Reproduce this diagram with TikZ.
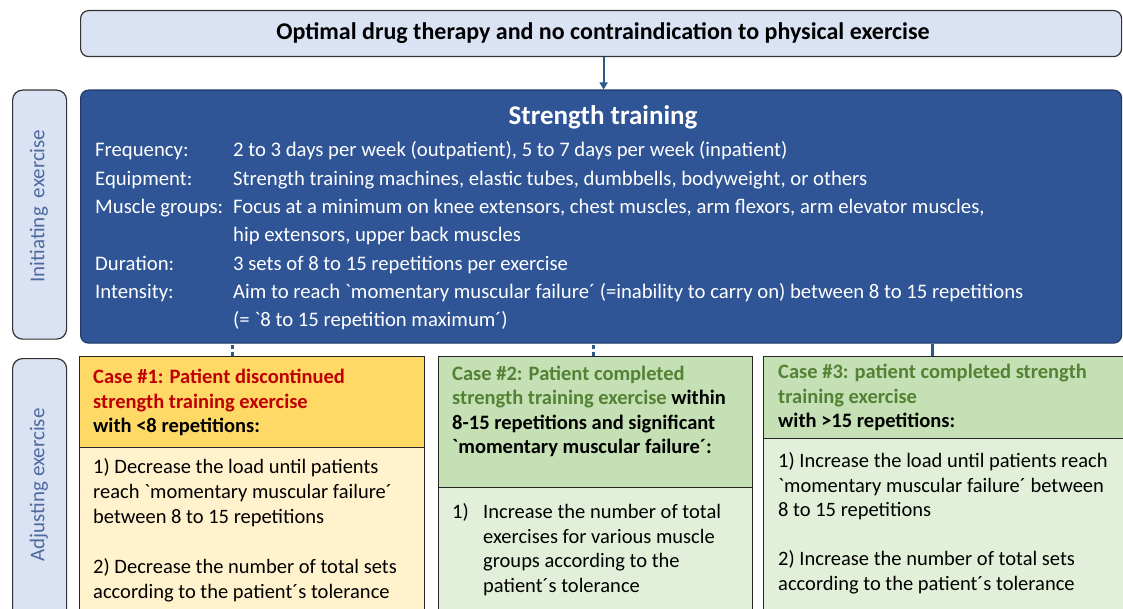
\documentclass[tikz,border=0pt]{standalone}
\usepackage{fontspec}
\setmainfont{Carlito}[Ligatures=TeXOff]
\usetikzlibrary{arrows.meta}
\definecolor{lightblue}{HTML}{DAE3F3}
\definecolor{darkblue}{HTML}{2F5597}
\definecolor{darkborder}{HTML}{1F3864}
\definecolor{arrowblue}{HTML}{2A5A8C}
\definecolor{labelblue}{HTML}{4F6A9E}
\definecolor{yhead}{HTML}{FFD966}
\definecolor{ybody}{HTML}{FFF2CC}
\definecolor{ghead}{HTML}{C5E0B4}
\definecolor{gbody}{HTML}{E2F0D9}
\definecolor{casered}{HTML}{C00000}
\definecolor{casegreen}{HTML}{548235}
\tikzset{
  rbox/.style={draw=black!80, line width=1.2pt, rounded corners=8pt, anchor=north west, inner sep=0pt},
  cbox/.style={draw=black!85, line width=1.3pt, anchor=north west, inner sep=0pt},
  ln/.style={anchor=base west, inner sep=0pt, font=\fontsize{20.5}{25}\selectfont},
  sln/.style={anchor=base west, inner sep=0pt, font=\fontsize{20.7}{25}\selectfont, text=white},
  hb/.style={anchor=base west, inner sep=0pt, font=\fontsize{20.5}{25}\selectfont\bfseries},
  lab/.style={rotate=90, inner sep=0pt, font=\fontsize{21}{24}\selectfont, text=labelblue},
  arr/.style={draw=arrowblue, line width=2.2pt, -{Triangle[length=7pt,width=8pt]}},
  conn/.style={draw=arrowblue, line width=2.6pt},
}
\begin{document}
\begin{tikzpicture}[x=1pt,y=-1pt]
\useasboundingbox (0,0) rectangle (1123,609);
\clip (0,0) rectangle (1123,609);
% top box
\node[rbox, fill=lightblue, minimum width=1041pt, minimum height=46pt] (top) at (80,10) {};
\node[inner sep=0pt, font=\fontsize{24}{28}\selectfont\bfseries] (toptxt) at (603,33) {Optimal drug therapy and no contraindication to physical exercise};
% strength box
\node[rbox, draw=darkborder, fill=darkblue, minimum width=1041pt, minimum height=253pt] (st) at (80,89.5) {};
\node[inner sep=0pt, text=white, font=\fontsize{27}{30}\selectfont\bfseries, anchor=base] (sttitle) at (603,125) {Strength training};
\node[sln] (s1a) at (95,157) {Frequency:};
\node[sln] (s1b) at (233,157) {2 to 3 days per week (outpatient), 5 to 7 days per week (inpatient)};
\node[sln] (s2a) at (95,185.3) {Equipment:};
\node[sln] (s2b) at (233,185.3) {Strength training machines, elastic tubes, dumbbells, bodyweight, or others};
\node[sln] (s3a) at (95,213.6) {Muscle groups:};
\node[sln] (s3b) at (233,213.6) {Focus at a minimum on knee extensors, chest muscles, arm flexors, arm elevator muscles,};
\node[sln] (s4b) at (233,241.9) {hip extensors, upper back muscles};
\node[sln] (s5a) at (95,270.2) {Duration:};
\node[sln] (s5b) at (233,270.2) {3 sets of 8 to 15 repetitions per exercise};
\node[sln] (s6a) at (95,298.5) {Intensity:};
\node[sln] (s6b) at (233,298.5) {Aim to reach `momentary muscular failure´ (=inability to carry on) between 8 to 15 repetitions};
\node[sln] (s7b) at (233,326.8) {(= `8 to 15 repetition maximum´)};
% side labels
\node[rbox, fill=lightblue, minimum width=54pt, minimum height=249pt, rounded corners=10pt] (lab1) at (12,89.5) {};
\node[lab] (lab1t) at (39,206) {Initiating\hspace{9pt}exercise};
\node[rbox, fill=lightblue, minimum width=54pt, minimum height=270pt, rounded corners=10pt] (lab2) at (12,358) {};
\node[lab] (lab2t) at (39,485) {Adjusting exercise};
% case 1
\node[cbox, fill=ybody, minimum width=345pt, minimum height=180pt] (c1b) at (79,447) {};
\node[cbox, fill=yhead, minimum width=345pt, minimum height=91pt] (c1) at (79,356) {};
\node[hb, text=casered] (c1h1) at (93,383) {Case \#1: Patient discontinued};
\node[hb, text=casered] (c1h2) at (93,408) {strength training exercise};
\node[hb] (c1h3) at (93,432) {with <8 repetitions:};
\node[ln] (c1l1) at (93,473) {1) Decrease the load until patients};
\node[ln] (c1l2) at (93,498) {reach `momentary muscular failure´};
\node[ln] (c1l3) at (93,523) {between 8 to 15 repetitions};
\node[ln] (c1l4) at (93,573) {2) Decrease the number of total sets};
\node[ln] (c1l5) at (93,598) {according to the patient´s tolerance};
% case 2
\node[cbox, fill=gbody, minimum width=314pt, minimum height=140pt] (c2b) at (438,487) {};
\node[cbox, fill=ghead, minimum width=314pt, minimum height=131pt] (c2) at (438,356) {};
\node[hb, text=casegreen] (c2h1) at (452,380) {Case \#2: Patient completed};
\node[hb] (c2h2) at (452,404) {\textcolor{casegreen}{strength training exercise} within};
\node[hb] (c2h3) at (452,429) {8-15 repetitions and significant};
\node[hb] (c2h4) at (452,453) {`momentary muscular failure´:};
\node[ln] (c2n) at (452,518) {1)};
\node[ln] (c2l1) at (483,518) {Increase the number of total};
\node[ln] (c2l2) at (483,543) {exercises for various muscle};
\node[ln] (c2l3) at (483,567) {groups according to the};
\node[ln] (c2l4) at (483,592) {patient´s tolerance};
% case 3
\node[cbox, fill=gbody, minimum width=370pt, minimum height=190pt] (c3b) at (763,438) {};
\node[cbox, fill=ghead, minimum width=370pt, minimum height=82pt] (c3) at (763,356) {};
\node[hb, text=casegreen] (c3h1) at (778,378) {Case \#3: patient completed strength};
\node[hb, text=casegreen] (c3h2) at (778,403) {training exercise};
\node[hb] (c3h3) at (778,427) {with >15 repetitions:};
\node[ln] (c3l1) at (778,467) {1) Increase the load until patients reach};
\node[ln] (c3l2) at (778,492) {`momentary muscular failure´ between};
\node[ln] (c3l3) at (778,516) {8 to 15 repetitions};
\node[ln] (c3l4) at (778,565) {2) Increase the number of total sets};
\node[ln] (c3l5) at (778,590) {according to the patient´s tolerance};
% connectors
\draw[arr] ([xshift=2.5pt]top.south) -- ([xshift=2.5pt]st.north);
\draw[conn, dash pattern=on 4pt off 3pt] ([xshift=-19.5pt]c1.north) -- ([xshift=-19.5pt]c1.north |- st.south);
\draw[conn, dash pattern=on 4pt off 3pt] ([xshift=-2pt]c2.north) -- ([xshift=-2pt]c2.north |- st.south);
\draw[conn] ([xshift=-16pt]c3.north) -- ([xshift=-16pt]c3.north |- st.south);
\end{tikzpicture}
\end{document}
